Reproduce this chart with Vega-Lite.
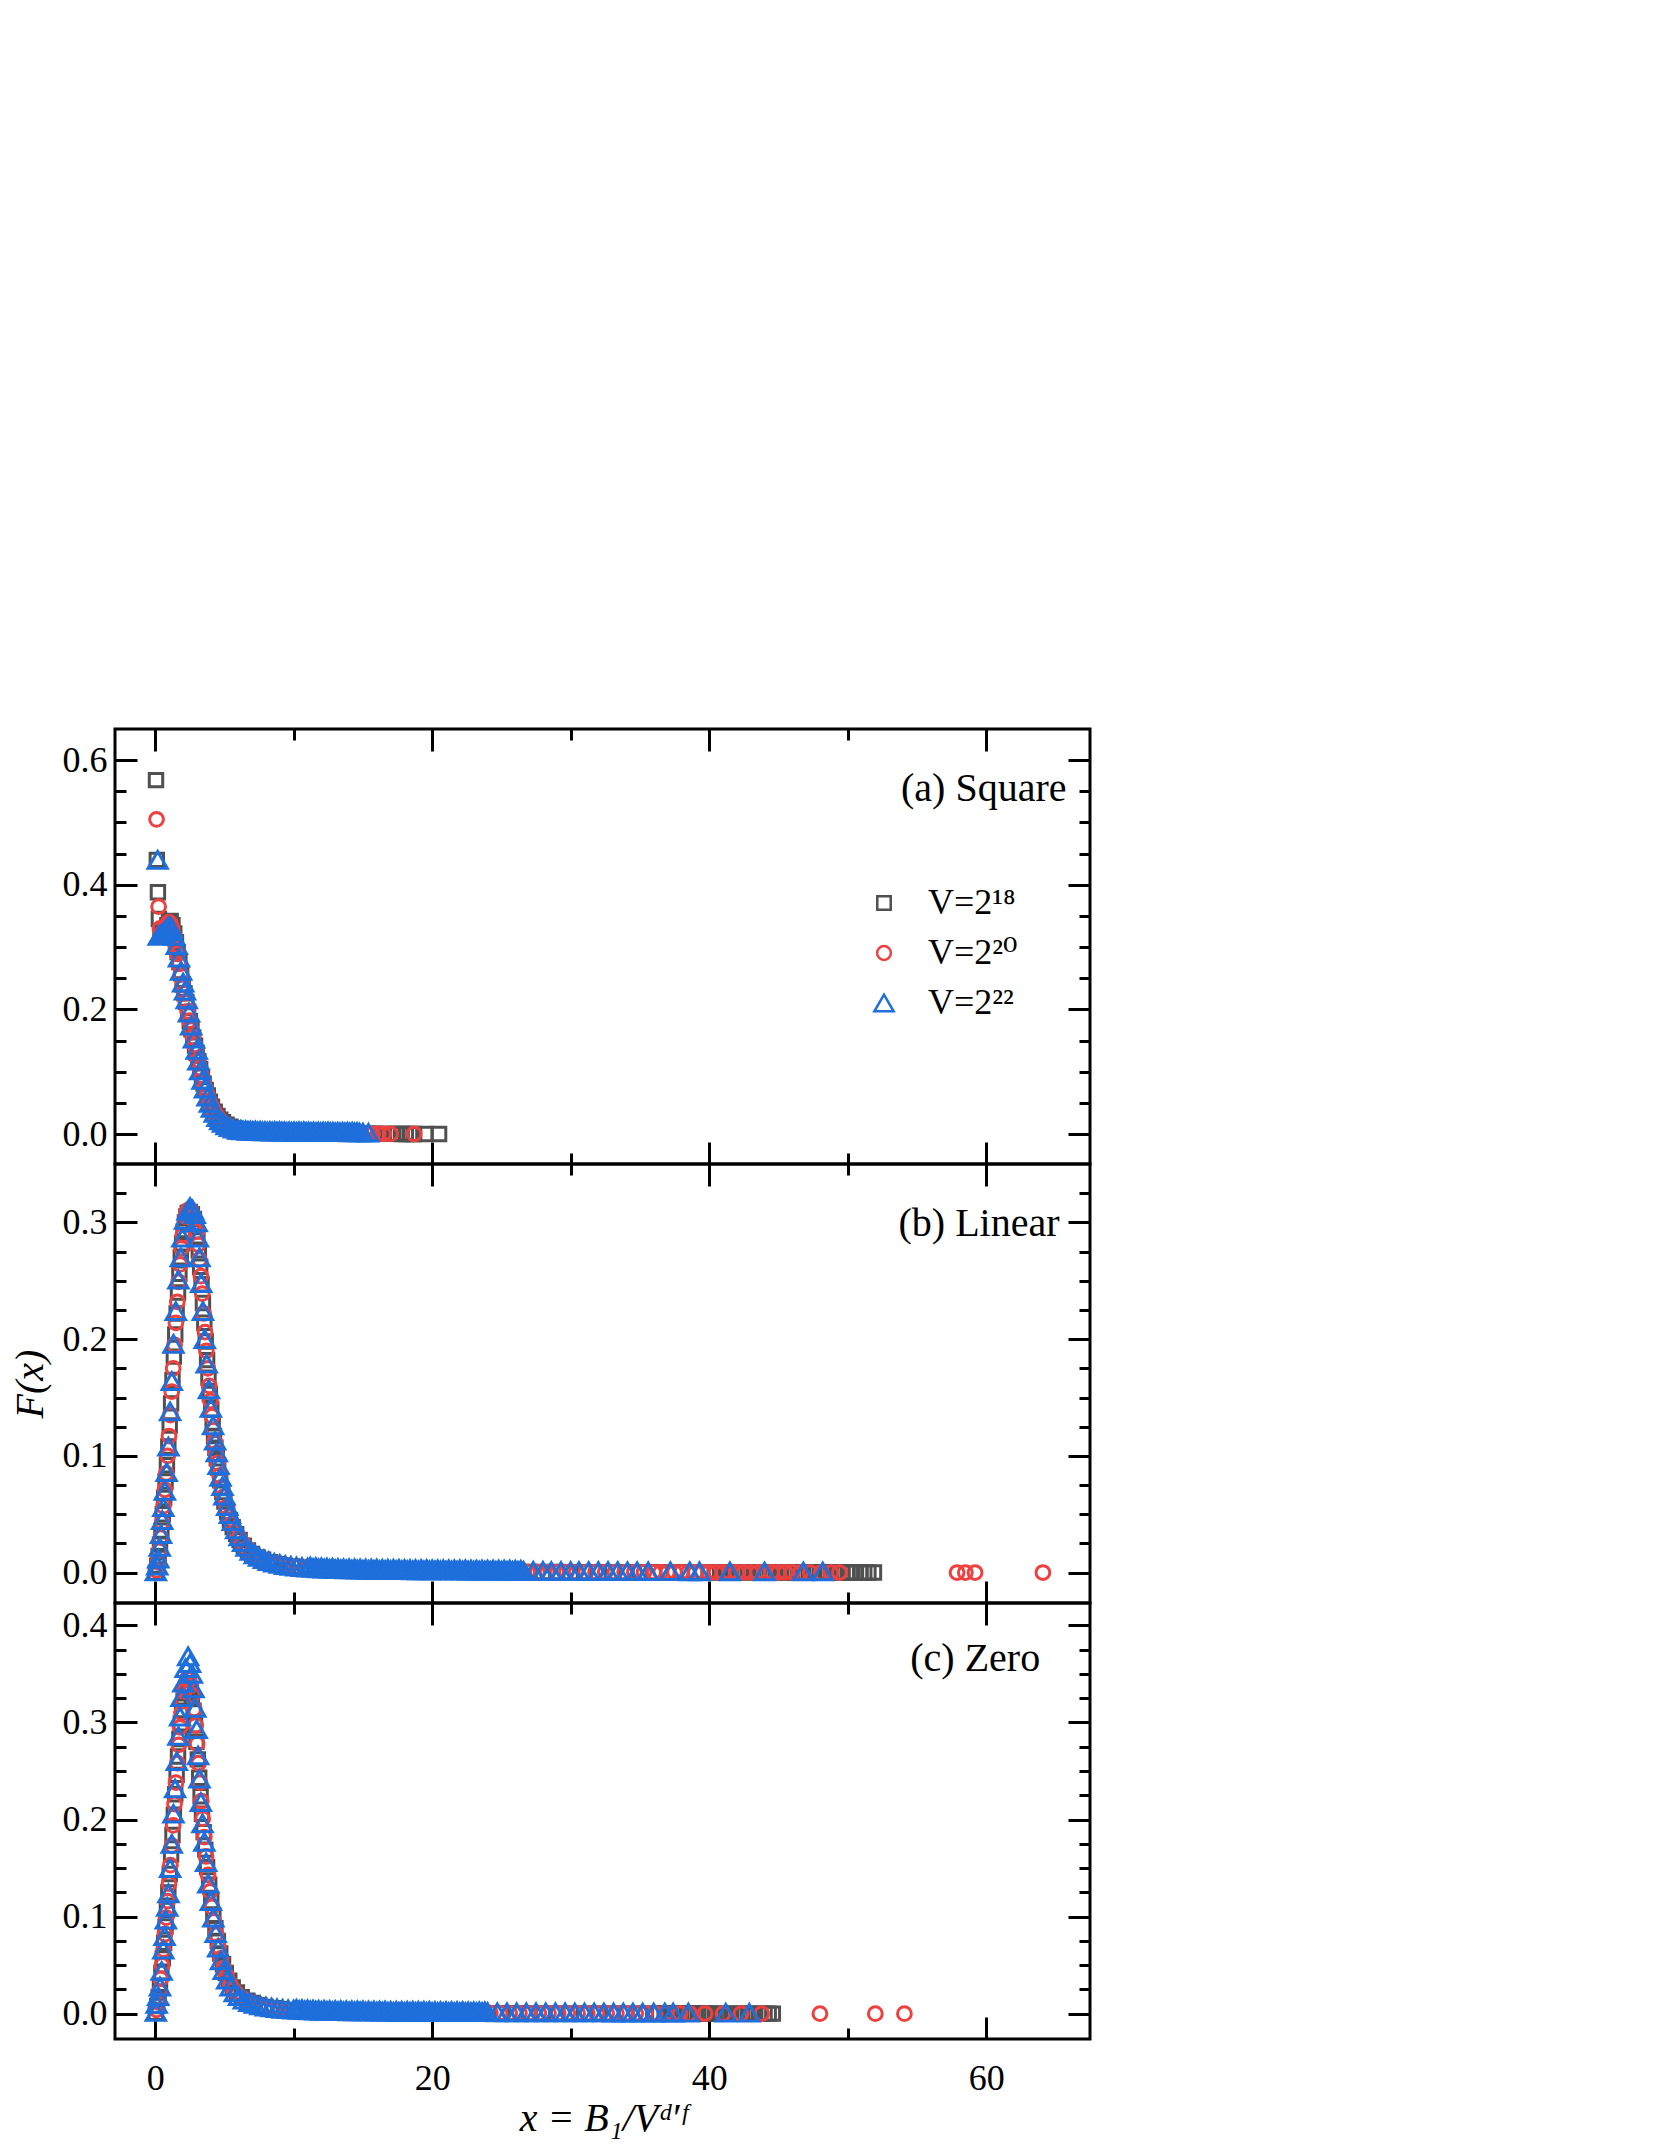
{
"$schema": "https://vega.github.io/schema/vega-lite/v6.json",
"background": "white",
"padding": {"left": 8, "top": 726, "right": 5, "bottom": 0},
"spacing": 0,
"bounds": "flush",
"resolve": {"scale": {"color": "shared", "shape": "shared", "size": "shared"}},
"config": {
  "font": "Liberation Serif",
  "view": {"stroke": "black", "strokeWidth": 3},
  "axis": {"grid": false, "domain": false, "tickColor": "black", "tickWidth": 3, "labelFont": "Liberation Serif", "labelFontSize": 36, "labelColor": "black", "labelPadding": 30, "titleFont": "Liberation Serif", "titleFontSize": 40, "titleFontStyle": "italic", "titleFontWeight": "normal", "titleColor": "black"}
},
"vconcat": [
{
 "width": 975, "height": 435,
 "data": {"values": [
{"s":18,"x":0.06,"y":0.568},{"s":18,"x":0.12,"y":0.44},{"s":18,"x":0.2,"y":0.388},{"s":18,"x":0.27,"y":0.345},{"s":18,"x":0.38,"y":0.322},{"s":18,"x":0.5,"y":0.318},{"s":18,"x":0.62,"y":0.322},{"s":18,"x":0.75,"y":0.328},{"s":18,"x":0.88,"y":0.335},{"s":18,"x":1.0,"y":0.34},{"s":18,"x":1.12,"y":0.342},{"s":18,"x":1.25,"y":0.335},{"s":18,"x":1.38,"y":0.322},{"s":18,"x":1.5,"y":0.308},{"s":18,"x":1.62,"y":0.292},{"s":18,"x":1.75,"y":0.276},{"s":18,"x":1.88,"y":0.258},{"s":18,"x":2.0,"y":0.24},{"s":18,"x":2.12,"y":0.226},{"s":18,"x":2.25,"y":0.212},{"s":18,"x":2.38,"y":0.196},{"s":18,"x":2.5,"y":0.181},{"s":18,"x":2.62,"y":0.168},{"s":18,"x":2.75,"y":0.155},{"s":18,"x":2.88,"y":0.142},{"s":18,"x":3.0,"y":0.13},{"s":18,"x":3.12,"y":0.117},{"s":18,"x":3.25,"y":0.104},{"s":18,"x":3.38,"y":0.092},{"s":18,"x":3.5,"y":0.081},{"s":18,"x":3.65,"y":0.071},{"s":18,"x":3.8,"y":0.062},{"s":18,"x":3.95,"y":0.052},{"s":18,"x":4.1,"y":0.044},{"s":18,"x":4.3,"y":0.036},{"s":18,"x":4.5,"y":0.029},{"s":18,"x":4.7,"y":0.023},{"s":18,"x":4.9,"y":0.019},{"s":18,"x":5.15,"y":0.015},{"s":18,"x":5.4,"y":0.012},{"s":18,"x":5.7,"y":0.009},{"s":18,"x":6.0,"y":0.007},{"s":18,"x":6.4,"y":0.0055},{"s":18,"x":6.8,"y":0.0045},{"s":18,"x":7.3,"y":0.0038},{"s":18,"x":7.8,"y":0.0032},{"s":18,"x":8.3,"y":0.0028},{"s":18,"x":8.8,"y":0.0025},{"s":18,"x":9.3,"y":0.0022},{"s":18,"x":9.8,"y":0.002},{"s":18,"x":10.3,"y":0.0018},{"s":18,"x":10.8,"y":0.0016},{"s":18,"x":11.3,"y":0.0015},{"s":18,"x":11.8,"y":0.0014},{"s":18,"x":12.3,"y":0.0012},{"s":18,"x":12.8,"y":0.0011},{"s":18,"x":13.3,"y":0.001},{"s":18,"x":13.8,"y":0.0009},{"s":18,"x":14.3,"y":0.0008},{"s":18,"x":14.8,"y":0.0007},{"s":18,"x":15.3,"y":0.0006},{"s":18,"x":15.8,"y":0.0005},{"s":18,"x":16.3,"y":0.0004},{"s":18,"x":16.8,"y":0.0004},{"s":18,"x":17.2,"y":0.0003},{"s":18,"x":17.5,"y":0.0003},{"s":18,"x":17.8,"y":0.0002},{"s":18,"x":18.1,"y":0.0002},{"s":18,"x":18.4,"y":0.0002},{"s":18,"x":18.7,"y":0.0001},{"s":18,"x":19.5,"y":0.0001},{"s":18,"x":20.5,"y":0.0001},
{"s":20,"x":0.1,"y":0.505},{"s":20,"x":0.25,"y":0.365},{"s":20,"x":0.35,"y":0.33},{"s":20,"x":0.48,"y":0.322},{"s":20,"x":0.6,"y":0.325},{"s":20,"x":0.72,"y":0.33},{"s":20,"x":0.85,"y":0.336},{"s":20,"x":0.97,"y":0.34},{"s":20,"x":1.1,"y":0.338},{"s":20,"x":1.22,"y":0.33},{"s":20,"x":1.35,"y":0.318},{"s":20,"x":1.48,"y":0.304},{"s":20,"x":1.6,"y":0.289},{"s":20,"x":1.72,"y":0.273},{"s":20,"x":1.85,"y":0.256},{"s":20,"x":1.98,"y":0.24},{"s":20,"x":2.1,"y":0.226},{"s":20,"x":2.22,"y":0.212},{"s":20,"x":2.35,"y":0.197},{"s":20,"x":2.48,"y":0.182},{"s":20,"x":2.6,"y":0.168},{"s":20,"x":2.72,"y":0.156},{"s":20,"x":2.85,"y":0.143},{"s":20,"x":2.98,"y":0.131},{"s":20,"x":3.1,"y":0.118},{"s":20,"x":3.22,"y":0.106},{"s":20,"x":3.35,"y":0.094},{"s":20,"x":3.48,"y":0.083},{"s":20,"x":3.62,"y":0.073},{"s":20,"x":3.76,"y":0.063},{"s":20,"x":3.9,"y":0.054},{"s":20,"x":4.05,"y":0.046},{"s":20,"x":4.22,"y":0.038},{"s":20,"x":4.4,"y":0.031},{"s":20,"x":4.6,"y":0.025},{"s":20,"x":4.8,"y":0.02},{"s":20,"x":5.0,"y":0.016},{"s":20,"x":5.25,"y":0.013},{"s":20,"x":5.5,"y":0.01},{"s":20,"x":5.8,"y":0.008},{"s":20,"x":6.1,"y":0.0065},{"s":20,"x":6.5,"y":0.005},{"s":20,"x":6.9,"y":0.0042},{"s":20,"x":7.3,"y":0.0035},{"s":20,"x":7.7,"y":0.003},{"s":20,"x":8.1,"y":0.0027},{"s":20,"x":8.5,"y":0.0024},{"s":20,"x":8.9,"y":0.0022},{"s":20,"x":9.3,"y":0.002},{"s":20,"x":9.7,"y":0.0018},{"s":20,"x":10.1,"y":0.0017},{"s":20,"x":10.5,"y":0.0016},{"s":20,"x":10.9,"y":0.0015},{"s":20,"x":11.3,"y":0.0014},{"s":20,"x":11.7,"y":0.0013},{"s":20,"x":12.1,"y":0.0012},{"s":20,"x":12.5,"y":0.0011},{"s":20,"x":12.9,"y":0.001},{"s":20,"x":13.3,"y":0.0009},{"s":20,"x":13.7,"y":0.0008},{"s":20,"x":14.1,"y":0.0008},{"s":20,"x":14.5,"y":0.0007},{"s":20,"x":14.9,"y":0.0006},{"s":20,"x":15.3,"y":0.0005},{"s":20,"x":15.7,"y":0.0005},{"s":20,"x":16.1,"y":0.0004},{"s":20,"x":16.5,"y":0.0003},{"s":20,"x":17.0,"y":0.0003},{"s":20,"x":18.7,"y":0.0002},
{"s":22,"x":0.18,"y":0.44},{"s":22,"x":0.26,"y":0.318},{"s":22,"x":0.4,"y":0.32},{"s":22,"x":0.55,"y":0.322},{"s":22,"x":0.7,"y":0.326},{"s":22,"x":0.85,"y":0.33},{"s":22,"x":1.03,"y":0.334},{"s":22,"x":1.2,"y":0.33},{"s":22,"x":1.38,"y":0.318},{"s":22,"x":1.56,"y":0.303},{"s":22,"x":1.72,"y":0.283},{"s":22,"x":1.87,"y":0.262},{"s":22,"x":2.02,"y":0.243},{"s":22,"x":2.15,"y":0.23},{"s":22,"x":2.28,"y":0.216},{"s":22,"x":2.44,"y":0.195},{"s":22,"x":2.6,"y":0.174},{"s":22,"x":2.8,"y":0.153},{"s":22,"x":3.0,"y":0.135},{"s":22,"x":3.12,"y":0.118},{"s":22,"x":3.25,"y":0.102},{"s":22,"x":3.42,"y":0.087},{"s":22,"x":3.6,"y":0.073},{"s":22,"x":3.78,"y":0.06},{"s":22,"x":3.95,"y":0.05},{"s":22,"x":4.1,"y":0.042},{"s":22,"x":4.3,"y":0.034},{"s":22,"x":4.5,"y":0.027},{"s":22,"x":4.7,"y":0.022},{"s":22,"x":4.9,"y":0.018},{"s":22,"x":5.15,"y":0.014},{"s":22,"x":5.4,"y":0.011},{"s":22,"x":5.7,"y":0.0085},{"s":22,"x":6.0,"y":0.0068},{"s":22,"x":6.35,"y":0.0058},{"s":22,"x":6.7,"y":0.0052},{"s":22,"x":7.05,"y":0.0048},{"s":22,"x":7.4,"y":0.0045},{"s":22,"x":7.75,"y":0.0043},{"s":22,"x":8.1,"y":0.0042},{"s":22,"x":8.45,"y":0.004},{"s":22,"x":8.8,"y":0.004},{"s":22,"x":9.15,"y":0.0039},{"s":22,"x":9.5,"y":0.0038},{"s":22,"x":9.85,"y":0.0037},{"s":22,"x":10.2,"y":0.0036},{"s":22,"x":10.55,"y":0.0035},{"s":22,"x":10.9,"y":0.0035},{"s":22,"x":11.25,"y":0.0034},{"s":22,"x":11.6,"y":0.0033},{"s":22,"x":11.95,"y":0.0032},{"s":22,"x":12.3,"y":0.0032},{"s":22,"x":12.65,"y":0.0031},{"s":22,"x":13.0,"y":0.003},{"s":22,"x":13.35,"y":0.003},{"s":22,"x":13.7,"y":0.0029},{"s":22,"x":14.05,"y":0.0028},{"s":22,"x":14.4,"y":0.0027},{"s":22,"x":14.75,"y":0.0026},{"s":22,"x":15.0,"y":0.0025},{"s":22,"x":15.4,"y":0.0022},
{"s":22,"x":6.18,"y":0.0068},{"s":22,"x":6.53,"y":0.0062},{"s":22,"x":6.88,"y":0.0058},{"s":22,"x":7.23,"y":0.0055},{"s":22,"x":7.58,"y":0.0052},{"s":22,"x":7.93,"y":0.005},{"s":22,"x":8.28,"y":0.0049},{"s":22,"x":8.63,"y":0.0048},{"s":22,"x":8.98,"y":0.0047},{"s":22,"x":9.33,"y":0.0046},{"s":22,"x":9.68,"y":0.0045},{"s":22,"x":10.03,"y":0.0044},{"s":22,"x":10.38,"y":0.0043},{"s":22,"x":10.73,"y":0.0043},{"s":22,"x":11.08,"y":0.0042},{"s":22,"x":11.43,"y":0.0041},{"s":22,"x":11.78,"y":0.004},{"s":22,"x":12.13,"y":0.004},{"s":22,"x":12.48,"y":0.0039},{"s":22,"x":12.83,"y":0.0038},{"s":22,"x":13.18,"y":0.0038},{"s":22,"x":13.53,"y":0.0037},{"s":22,"x":13.88,"y":0.0036},{"s":22,"x":14.23,"y":0.0035},{"s":22,"x":14.58,"y":0.0034}
 ]},
 "resolve": {"axis": {"x": "independent", "y": "independent"}},
 "layer": [
  {"mark": {"type": "point", "filled": false, "strokeWidth": 3, "opacity": 1},
   "encoding": {
    "x": {"field": "x", "type": "quantitative", "scale": {"domain": [-2.9, 67.5], "nice": false, "zero": false}, "axis": {"orient": "bottom", "values": [0, 20, 40, 60], "tickSize": -22, "labels": false, "title": null}},
    "y": {"field": "y", "type": "quantitative", "scale": {"domain": [-0.048, 0.65], "nice": false, "zero": false}, "axis": {"orient": "left", "values": [0, 0.2, 0.4, 0.6], "tickSize": -22, "format": ".1f", "title": null}},
    "color": {"field": "s", "type": "nominal", "scale": {"domain": [18, 20, 22], "range": ["#505050", "#ef4040", "#1e6fdc"]}, "legend": {"orient": "none", "legendX": 751, "legendY": 156, "title": null, "labelExpr": "datum.value == 18 ? 'V=2¹⁸' : datum.value == 20 ? 'V=2²⁰' : 'V=2²²'", "labelFont": "Liberation Serif, DejaVu Serif", "labelFontSize": 36, "labelColor": "black", "symbolSize": 200, "symbolStrokeWidth": 2.5, "rowPadding": 14, "labelOffset": 26, "padding": 0}},
    "shape": {"field": "s", "type": "nominal", "scale": {"domain": [18, 20, 22], "range": ["square", "circle", "triangle-up"]}, "legend": {"orient": "none", "legendX": 751, "legendY": 156, "title": null, "labelExpr": "datum.value == 18 ? 'V=2¹⁸' : datum.value == 20 ? 'V=2²⁰' : 'V=2²²'", "labelFont": "Liberation Serif, DejaVu Serif", "labelFontSize": 36, "labelColor": "black", "symbolSize": 200, "symbolStrokeWidth": 2.5, "rowPadding": 14, "labelOffset": 26, "padding": 0}},
    "size": {"field": "s", "type": "nominal", "scale": {"type": "ordinal", "domain": [18, 20, 22], "range": [180, 190, 370]}, "legend": null}
   }},
  {"data": {"values": [{}]}, "mark": {"type": "point", "opacity": 0},
   "encoding": {
    "x": {"datum": 0, "type": "quantitative", "scale": {"domain": [-2.9, 67.5], "nice": false, "zero": false}, "axis": {"orient": "bottom", "values": [10, 30, 50], "tickSize": -11, "labels": false, "title": null}},
    "y": {"datum": 0, "type": "quantitative", "scale": {"domain": [-0.048, 0.65], "nice": false, "zero": false}, "axis": {"orient": "left", "values": [0.05, 0.1, 0.15, 0.25, 0.3, 0.35, 0.45, 0.5, 0.55], "tickSize": -11, "labels": false, "title": null}}}},
  {"data": {"values": [{}]}, "mark": {"type": "point", "opacity": 0},
   "encoding": {
    "x": {"datum": 0, "type": "quantitative", "scale": {"domain": [-2.9, 67.5], "nice": false, "zero": false}, "axis": {"orient": "top", "values": [0, 20, 40, 60], "tickSize": -22, "labels": false, "title": null}},
    "y": {"datum": 0, "type": "quantitative", "scale": {"domain": [-0.048, 0.65], "nice": false, "zero": false}, "axis": {"orient": "right", "values": [0, 0.2, 0.4, 0.6], "tickSize": -22, "labels": false, "title": null}}}},
  {"data": {"values": [{}]}, "mark": {"type": "text", "text": "(a) Square", "align": "right", "baseline": "middle", "fontSize": 40, "font": "Liberation Serif", "color": "black"},
   "encoding": {
    "x": {"datum": 65.8, "type": "quantitative", "scale": {"domain": [-2.9, 67.5], "nice": false, "zero": false}, "axis": {"orient": "top", "values": [10, 30, 50], "tickSize": -11, "labels": false, "title": null}},
    "y": {"datum": 0.554, "type": "quantitative", "scale": {"domain": [-0.048, 0.65], "nice": false, "zero": false}, "axis": {"orient": "right", "values": [0.05, 0.1, 0.15, 0.25, 0.3, 0.35, 0.45, 0.5, 0.55], "tickSize": -11, "labels": false, "title": null}}}}
 ]
},
{
 "width": 975, "height": 439,
 "data": {"values": [
{"s":18,"x":0.05,"y":0.0},{"s":18,"x":0.15,"y":0.006},{"s":18,"x":0.25,"y":0.014},{"s":18,"x":0.35,"y":0.024},{"s":18,"x":0.45,"y":0.036},{"s":18,"x":0.55,"y":0.05},{"s":18,"x":0.65,"y":0.064},{"s":18,"x":0.75,"y":0.078},{"s":18,"x":0.85,"y":0.092},{"s":18,"x":0.95,"y":0.108},{"s":18,"x":1.05,"y":0.126},{"s":18,"x":1.15,"y":0.145},{"s":18,"x":1.25,"y":0.165},{"s":18,"x":1.35,"y":0.185},{"s":18,"x":1.45,"y":0.204},{"s":18,"x":1.55,"y":0.222},{"s":18,"x":1.65,"y":0.24},{"s":18,"x":1.75,"y":0.256},{"s":18,"x":1.85,"y":0.27},{"s":18,"x":1.95,"y":0.282},{"s":18,"x":2.05,"y":0.292},{"s":18,"x":2.15,"y":0.3},{"s":18,"x":2.25,"y":0.305},{"s":18,"x":2.35,"y":0.308},{"s":18,"x":2.5,"y":0.309},{"s":18,"x":2.65,"y":0.307},{"s":18,"x":2.8,"y":0.303},{"s":18,"x":2.95,"y":0.296},{"s":18,"x":3.05,"y":0.288},{"s":18,"x":3.15,"y":0.276},{"s":18,"x":3.25,"y":0.262},{"s":18,"x":3.35,"y":0.247},{"s":18,"x":3.45,"y":0.231},{"s":18,"x":3.55,"y":0.214},{"s":18,"x":3.65,"y":0.198},{"s":18,"x":3.75,"y":0.182},{"s":18,"x":3.85,"y":0.167},{"s":18,"x":3.95,"y":0.153},{"s":18,"x":4.05,"y":0.14},{"s":18,"x":4.15,"y":0.128},{"s":18,"x":4.25,"y":0.117},{"s":18,"x":4.35,"y":0.107},{"s":18,"x":4.45,"y":0.098},{"s":18,"x":4.55,"y":0.09},{"s":18,"x":4.7,"y":0.079},{"s":18,"x":4.85,"y":0.069},{"s":18,"x":5.0,"y":0.061},{"s":18,"x":5.2,"y":0.052},{"s":18,"x":5.4,"y":0.045},{"s":18,"x":5.6,"y":0.039},{"s":18,"x":5.85,"y":0.033},{"s":18,"x":6.1,"y":0.028},{"s":18,"x":6.4,"y":0.023},{"s":18,"x":6.7,"y":0.019},{"s":18,"x":7.0,"y":0.016},{"s":18,"x":7.4,"y":0.013},{"s":18,"x":7.8,"y":0.011},{"s":18,"x":8.3,"y":0.009},{"s":18,"x":8.8,"y":0.0075},{"s":18,"x":9.3,"y":0.0062},{"s":18,"x":9.9,"y":0.0052},{"s":18,"x":10.5,"y":0.0044},{"s":18,"x":11.2,"y":0.0037},{"s":18,"x":11.9,"y":0.0031},{"s":18,"x":12.6,"y":0.0026},{"s":18,"x":13.3,"y":0.0022},{"s":18,"x":14,"y":0.0019},{"s":18,"x":15,"y":0.0016},{"s":18,"x":16,"y":0.0014},{"s":18,"x":17,"y":0.0012},{"s":18,"x":18,"y":0.0011},{"s":18,"x":19,"y":0.001},{"s":18,"x":20,"y":0.0009},{"s":18,"x":21,"y":0.0008},{"s":18,"x":22,"y":0.0008},{"s":18,"x":23,"y":0.0007},{"s":18,"x":24,"y":0.0007},{"s":18,"x":25,"y":0.0006},{"s":18,"x":26,"y":0.0006},{"s":18,"x":27,"y":0.0005},{"s":18,"x":28,"y":0.0005},{"s":18,"x":29,"y":0.0005},{"s":18,"x":30,"y":0.0004},{"s":18,"x":31,"y":0.0004},{"s":18,"x":32,"y":0.0004},{"s":18,"x":33,"y":0.0004},{"s":18,"x":34,"y":0.0003},{"s":18,"x":35,"y":0.0003},{"s":18,"x":36,"y":0.0003},{"s":18,"x":37,"y":0.0003},{"s":18,"x":38,"y":0.0003},{"s":18,"x":39,"y":0.0002},{"s":18,"x":40,"y":0.0002},{"s":18,"x":40.4,"y":0.0002},{"s":18,"x":40.8,"y":0.0002},{"s":18,"x":41.2,"y":0.0002},{"s":18,"x":41.6,"y":0.0002},{"s":18,"x":42.0,"y":0.0002},{"s":18,"x":42.4,"y":0.0002},{"s":18,"x":42.8,"y":0.0002},{"s":18,"x":43.2,"y":0.0002},{"s":18,"x":43.6,"y":0.0002},{"s":18,"x":44.0,"y":0.0002},{"s":18,"x":44.4,"y":0.0002},{"s":18,"x":44.8,"y":0.0002},{"s":18,"x":45.2,"y":0.0001},{"s":18,"x":45.6,"y":0.0001},{"s":18,"x":46.0,"y":0.0001},{"s":18,"x":46.4,"y":0.0001},{"s":18,"x":46.8,"y":0.0001},{"s":18,"x":47.2,"y":0.0001},{"s":18,"x":47.6,"y":0.0001},{"s":18,"x":48.0,"y":0.0001},{"s":18,"x":48.4,"y":0.0001},{"s":18,"x":48.8,"y":0.0001},{"s":18,"x":49.2,"y":0.0001},{"s":18,"x":49.6,"y":0.0001},{"s":18,"x":50.0,"y":0.0001},{"s":18,"x":50.3,"y":0.0001},{"s":18,"x":50.6,"y":0.0001},{"s":18,"x":50.9,"y":0.0001},{"s":18,"x":51.2,"y":0.0001},{"s":18,"x":51.5,"y":0.0001},{"s":18,"x":51.9,"y":0.0001},
{"s":20,"x":0.1,"y":0.002},{"s":20,"x":0.2,"y":0.009},{"s":20,"x":0.3,"y":0.019},{"s":20,"x":0.4,"y":0.03},{"s":20,"x":0.5,"y":0.043},{"s":20,"x":0.6,"y":0.057},{"s":20,"x":0.7,"y":0.071},{"s":20,"x":0.8,"y":0.085},{"s":20,"x":0.9,"y":0.1},{"s":20,"x":1.0,"y":0.117},{"s":20,"x":1.1,"y":0.135},{"s":20,"x":1.2,"y":0.155},{"s":20,"x":1.3,"y":0.175},{"s":20,"x":1.4,"y":0.195},{"s":20,"x":1.5,"y":0.214},{"s":20,"x":1.6,"y":0.232},{"s":20,"x":1.7,"y":0.249},{"s":20,"x":1.8,"y":0.264},{"s":20,"x":1.9,"y":0.278},{"s":20,"x":2.0,"y":0.289},{"s":20,"x":2.1,"y":0.298},{"s":20,"x":2.2,"y":0.305},{"s":20,"x":2.3,"y":0.309},{"s":20,"x":2.45,"y":0.311},{"s":20,"x":2.6,"y":0.31},{"s":20,"x":2.75,"y":0.306},{"s":20,"x":2.9,"y":0.3},{"s":20,"x":3.0,"y":0.292},{"s":20,"x":3.1,"y":0.281},{"s":20,"x":3.2,"y":0.268},{"s":20,"x":3.3,"y":0.254},{"s":20,"x":3.4,"y":0.239},{"s":20,"x":3.5,"y":0.222},{"s":20,"x":3.6,"y":0.206},{"s":20,"x":3.7,"y":0.19},{"s":20,"x":3.8,"y":0.175},{"s":20,"x":3.9,"y":0.16},{"s":20,"x":4.0,"y":0.147},{"s":20,"x":4.1,"y":0.134},{"s":20,"x":4.2,"y":0.122},{"s":20,"x":4.3,"y":0.112},{"s":20,"x":4.4,"y":0.102},{"s":20,"x":4.5,"y":0.094},{"s":20,"x":4.65,"y":0.083},{"s":20,"x":4.8,"y":0.073},{"s":20,"x":4.95,"y":0.065},{"s":20,"x":5.15,"y":0.056},{"s":20,"x":5.35,"y":0.048},{"s":20,"x":5.55,"y":0.042},{"s":20,"x":5.8,"y":0.035},{"s":20,"x":6.05,"y":0.03},{"s":20,"x":6.35,"y":0.025},{"s":20,"x":6.65,"y":0.021},{"s":20,"x":6.95,"y":0.017},{"s":20,"x":7.3,"y":0.014},{"s":20,"x":7.7,"y":0.0115},{"s":20,"x":8.1,"y":0.0095},{"s":20,"x":8.6,"y":0.008},{"s":20,"x":9.1,"y":0.0066},{"s":20,"x":9.6,"y":0.0055},{"s":20,"x":10.2,"y":0.0046},{"s":20,"x":10.8,"y":0.0039},{"s":20,"x":11.5,"y":0.0032},{"s":20,"x":12.2,"y":0.0027},{"s":20,"x":12.9,"y":0.0023},{"s":20,"x":13.6,"y":0.002},{"s":20,"x":14.3,"y":0.0018},{"s":20,"x":15.0,"y":0.0016},{"s":20,"x":15.7,"y":0.0015},{"s":20,"x":16.4,"y":0.0014},{"s":20,"x":17.1,"y":0.0013},{"s":20,"x":17.8,"y":0.0012},{"s":20,"x":18.5,"y":0.0011},{"s":20,"x":19.2,"y":0.001},{"s":20,"x":19.9,"y":0.001},{"s":20,"x":20.6,"y":0.0009},{"s":20,"x":21.3,"y":0.0009},{"s":20,"x":22.0,"y":0.0008},{"s":20,"x":22.7,"y":0.0008},{"s":20,"x":23.4,"y":0.0007},{"s":20,"x":24.1,"y":0.0007},{"s":20,"x":24.8,"y":0.0007},{"s":20,"x":25.5,"y":0.0006},{"s":20,"x":26.2,"y":0.0006},{"s":20,"x":26.9,"y":0.0006},{"s":20,"x":27.6,"y":0.0005},{"s":20,"x":28.3,"y":0.0005},{"s":20,"x":29.0,"y":0.0005},{"s":20,"x":29.7,"y":0.0005},{"s":20,"x":30.4,"y":0.0004},{"s":20,"x":31.1,"y":0.0004},{"s":20,"x":31.8,"y":0.0004},{"s":20,"x":32.5,"y":0.0004},{"s":20,"x":33.2,"y":0.0004},{"s":20,"x":33.9,"y":0.0003},{"s":20,"x":34.6,"y":0.0003},{"s":20,"x":35.3,"y":0.0003},{"s":20,"x":36.0,"y":0.0003},{"s":20,"x":36.5,"y":0.0003},{"s":20,"x":37.0,"y":0.0003},{"s":20,"x":37.5,"y":0.0003},{"s":20,"x":38.0,"y":0.0003},{"s":20,"x":38.5,"y":0.0002},{"s":20,"x":39.0,"y":0.0002},{"s":20,"x":39.5,"y":0.0002},{"s":20,"x":40.0,"y":0.0002},{"s":20,"x":40.5,"y":0.0002},{"s":20,"x":41.0,"y":0.0002},{"s":20,"x":41.5,"y":0.0002},{"s":20,"x":42.0,"y":0.0002},{"s":20,"x":42.5,"y":0.0002},{"s":20,"x":43.0,"y":0.0002},{"s":20,"x":43.5,"y":0.0002},{"s":20,"x":44.0,"y":0.0002},{"s":20,"x":44.5,"y":0.0002},{"s":20,"x":45.0,"y":0.0002},{"s":20,"x":45.5,"y":0.0002},{"s":20,"x":46.0,"y":0.0002},{"s":20,"x":46.6,"y":0.0001},{"s":20,"x":47.3,"y":0.0001},{"s":20,"x":48.1,"y":0.0001},{"s":20,"x":48.8,"y":0.0001},{"s":20,"x":49.4,"y":0.0001},{"s":20,"x":57.9,"y":0.0001},{"s":20,"x":58.5,"y":0.0001},{"s":20,"x":59.2,"y":0.0001},{"s":20,"x":64.1,"y":0.0001},
{"s":22,"x":0.05,"y":0.001},{"s":22,"x":0.15,"y":0.006},{"s":22,"x":0.23,"y":0.012},{"s":22,"x":0.33,"y":0.022},{"s":22,"x":0.42,"y":0.033},{"s":22,"x":0.51,"y":0.045},{"s":22,"x":0.59,"y":0.056},{"s":22,"x":0.7,"y":0.07},{"s":22,"x":0.83,"y":0.086},{"s":22,"x":0.96,"y":0.108},{"s":22,"x":1.08,"y":0.138},{"s":22,"x":1.2,"y":0.164},{"s":22,"x":1.32,"y":0.196},{"s":22,"x":1.49,"y":0.224},{"s":22,"x":1.68,"y":0.251},{"s":22,"x":1.85,"y":0.27},{"s":22,"x":1.97,"y":0.287},{"s":22,"x":2.16,"y":0.302},{"s":22,"x":2.35,"y":0.31},{"s":22,"x":2.52,"y":0.313},{"s":22,"x":2.7,"y":0.311},{"s":22,"x":2.86,"y":0.307},{"s":22,"x":3.0,"y":0.3},{"s":22,"x":3.08,"y":0.287},{"s":22,"x":3.2,"y":0.27},{"s":22,"x":3.32,"y":0.248},{"s":22,"x":3.45,"y":0.224},{"s":22,"x":3.58,"y":0.2},{"s":22,"x":3.72,"y":0.179},{"s":22,"x":3.88,"y":0.157},{"s":22,"x":4.02,"y":0.141},{"s":22,"x":4.18,"y":0.126},{"s":22,"x":4.33,"y":0.113},{"s":22,"x":4.45,"y":0.103},{"s":22,"x":4.58,"y":0.092},{"s":22,"x":4.72,"y":0.082},{"s":22,"x":4.86,"y":0.074},{"s":22,"x":5.0,"y":0.066},{"s":22,"x":5.2,"y":0.057},{"s":22,"x":5.4,"y":0.05},{"s":22,"x":5.6,"y":0.044},{"s":22,"x":5.85,"y":0.037},{"s":22,"x":6.1,"y":0.031},{"s":22,"x":6.35,"y":0.026},{"s":22,"x":6.6,"y":0.022},{"s":22,"x":6.9,"y":0.0185},{"s":22,"x":7.2,"y":0.0157},{"s":22,"x":7.5,"y":0.0135},{"s":22,"x":7.85,"y":0.0115},{"s":22,"x":8.2,"y":0.0098},{"s":22,"x":8.6,"y":0.0085},{"s":22,"x":9.0,"y":0.0074},{"s":22,"x":9.4,"y":0.0065},{"s":22,"x":9.8,"y":0.0058},{"s":22,"x":10.2,"y":0.0052},{"s":22,"x":10.6,"y":0.0047},{"s":22,"x":11.0,"y":0.0043},{"s":22,"x":11.4,"y":0.004},{"s":22,"x":11.8,"y":0.0037},{"s":22,"x":12.2,"y":0.0034},{"s":22,"x":12.6,"y":0.0032},{"s":22,"x":13.0,"y":0.003},{"s":22,"x":13.4,"y":0.0029},{"s":22,"x":13.8,"y":0.0028},{"s":22,"x":14.2,"y":0.0027},{"s":22,"x":14.6,"y":0.0026},{"s":22,"x":15.0,"y":0.0025},{"s":22,"x":15.4,"y":0.0024},{"s":22,"x":15.8,"y":0.0024},{"s":22,"x":16.2,"y":0.0023},{"s":22,"x":16.6,"y":0.0023},{"s":22,"x":17.0,"y":0.0022},{"s":22,"x":17.4,"y":0.0022},{"s":22,"x":17.8,"y":0.0021},{"s":22,"x":18.2,"y":0.0021},{"s":22,"x":18.6,"y":0.002},{"s":22,"x":19.0,"y":0.002},{"s":22,"x":19.4,"y":0.002},{"s":22,"x":19.8,"y":0.0019},{"s":22,"x":20.2,"y":0.0019},{"s":22,"x":20.6,"y":0.0019},{"s":22,"x":21.0,"y":0.0018},{"s":22,"x":21.4,"y":0.0018},{"s":22,"x":21.8,"y":0.0018},{"s":22,"x":22.2,"y":0.0018},{"s":22,"x":22.6,"y":0.0017},{"s":22,"x":23.0,"y":0.0017},{"s":22,"x":23.4,"y":0.0017},{"s":22,"x":23.8,"y":0.0017},{"s":22,"x":24.2,"y":0.0016},{"s":22,"x":24.6,"y":0.0016},{"s":22,"x":25.0,"y":0.0016},{"s":22,"x":25.4,"y":0.0016},{"s":22,"x":25.8,"y":0.0015},{"s":22,"x":26.2,"y":0.0015},{"s":22,"x":26.6,"y":0.0015},{"s":22,"x":27.3,"y":0.0015},{"s":22,"x":28.0,"y":0.0015},{"s":22,"x":28.6,"y":0.0014},{"s":22,"x":29.3,"y":0.0014},{"s":22,"x":30.0,"y":0.0014},{"s":22,"x":30.6,"y":0.0014},{"s":22,"x":31.3,"y":0.0013},{"s":22,"x":32.0,"y":0.0013},{"s":22,"x":32.7,"y":0.0013},{"s":22,"x":33.4,"y":0.0013},{"s":22,"x":34.1,"y":0.0012},{"s":22,"x":34.8,"y":0.0012},{"s":22,"x":35.6,"y":0.0012},{"s":22,"x":37.2,"y":0.0012},{"s":22,"x":38.6,"y":0.0011},{"s":22,"x":39.3,"y":0.0011},{"s":22,"x":41.5,"y":0.0011},{"s":22,"x":44.0,"y":0.001},{"s":22,"x":46.8,"y":0.001},{"s":22,"x":48.2,"y":0.001},
{"s":22,"x":11.2,"y":0.0052},{"s":22,"x":11.6,"y":0.0048},{"s":22,"x":12.0,"y":0.0045},{"s":22,"x":12.4,"y":0.0043},{"s":22,"x":12.8,"y":0.0041},{"s":22,"x":13.2,"y":0.0039},{"s":22,"x":13.6,"y":0.0038},{"s":22,"x":14.0,"y":0.0037},{"s":22,"x":14.4,"y":0.0036},{"s":22,"x":14.8,"y":0.0035},{"s":22,"x":15.2,"y":0.0035},{"s":22,"x":15.6,"y":0.0034},{"s":22,"x":16.0,"y":0.0034},{"s":22,"x":16.4,"y":0.0033},{"s":22,"x":16.8,"y":0.0033},{"s":22,"x":17.2,"y":0.0032},{"s":22,"x":17.6,"y":0.0032},{"s":22,"x":18.0,"y":0.0031},{"s":22,"x":18.4,"y":0.0031},{"s":22,"x":18.8,"y":0.003},{"s":22,"x":19.2,"y":0.003},{"s":22,"x":19.6,"y":0.003},{"s":22,"x":20.0,"y":0.0029},{"s":22,"x":20.4,"y":0.0029},{"s":22,"x":20.8,"y":0.0029},{"s":22,"x":21.2,"y":0.0028},{"s":22,"x":21.6,"y":0.0028},{"s":22,"x":22.0,"y":0.0028},{"s":22,"x":22.4,"y":0.0028},{"s":22,"x":22.8,"y":0.0027},{"s":22,"x":23.2,"y":0.0027},{"s":22,"x":23.6,"y":0.0027},{"s":22,"x":24.0,"y":0.0027},{"s":22,"x":24.4,"y":0.0026},{"s":22,"x":24.8,"y":0.0026},{"s":22,"x":25.2,"y":0.0026},{"s":22,"x":25.6,"y":0.0026},{"s":22,"x":26.0,"y":0.0025},{"s":22,"x":26.4,"y":0.0025}
 ]},
 "resolve": {"axis": {"x": "independent", "y": "independent"}},
 "layer": [
  {"mark": {"type": "point", "filled": false, "strokeWidth": 3, "opacity": 1},
   "encoding": {
    "x": {"field": "x", "type": "quantitative", "scale": {"domain": [-2.9, 67.5], "nice": false, "zero": false}, "axis": {"orient": "bottom", "values": [0, 20, 40, 60], "tickSize": -22, "labels": false, "title": null}},
    "y": {"field": "y", "type": "quantitative", "scale": {"domain": [-0.026, 0.35], "nice": false, "zero": false}, "axis": {"orient": "left", "values": [0, 0.1, 0.2, 0.3], "tickSize": -22, "format": ".1f", "title": "F(x)", "titlePadding": 12}},
    "color": {"field": "s", "type": "nominal", "scale": {"domain": [18, 20, 22], "range": ["#505050", "#ef4040", "#1e6fdc"]}, "legend": {"orient": "none", "legendX": 751, "legendY": 156, "title": null, "labelExpr": "datum.value == 18 ? 'V=2¹⁸' : datum.value == 20 ? 'V=2²⁰' : 'V=2²²'", "labelFont": "Liberation Serif, DejaVu Serif", "labelFontSize": 36, "labelColor": "black", "symbolSize": 200, "symbolStrokeWidth": 2.5, "rowPadding": 14, "labelOffset": 26, "padding": 0}},
    "shape": {"field": "s", "type": "nominal", "scale": {"domain": [18, 20, 22], "range": ["square", "circle", "triangle-up"]}, "legend": {"orient": "none", "legendX": 751, "legendY": 156, "title": null, "labelExpr": "datum.value == 18 ? 'V=2¹⁸' : datum.value == 20 ? 'V=2²⁰' : 'V=2²²'", "labelFont": "Liberation Serif, DejaVu Serif", "labelFontSize": 36, "labelColor": "black", "symbolSize": 200, "symbolStrokeWidth": 2.5, "rowPadding": 14, "labelOffset": 26, "padding": 0}},
    "size": {"field": "s", "type": "nominal", "scale": {"type": "ordinal", "domain": [18, 20, 22], "range": [180, 190, 370]}, "legend": null}
   }},
  {"data": {"values": [{}]}, "mark": {"type": "point", "opacity": 0},
   "encoding": {
    "x": {"datum": 0, "type": "quantitative", "scale": {"domain": [-2.9, 67.5], "nice": false, "zero": false}, "axis": {"orient": "bottom", "values": [10, 30, 50], "tickSize": -11, "labels": false, "title": null}},
    "y": {"datum": 0, "type": "quantitative", "scale": {"domain": [-0.026, 0.35], "nice": false, "zero": false}, "axis": {"orient": "left", "values": [0.025, 0.05, 0.075, 0.125, 0.15, 0.175, 0.225, 0.25, 0.275, 0.325], "tickSize": -11, "labels": false, "title": null}}}},
  {"data": {"values": [{}]}, "mark": {"type": "point", "opacity": 0},
   "encoding": {
    "x": {"datum": 0, "type": "quantitative", "scale": {"domain": [-2.9, 67.5], "nice": false, "zero": false}, "axis": {"orient": "top", "values": [0, 20, 40, 60], "tickSize": -22, "labels": false, "title": null}},
    "y": {"datum": 0, "type": "quantitative", "scale": {"domain": [-0.026, 0.35], "nice": false, "zero": false}, "axis": {"orient": "right", "values": [0, 0.1, 0.2, 0.3], "tickSize": -22, "labels": false, "title": null}}}},
  {"data": {"values": [{}]}, "mark": {"type": "text", "text": "(b) Linear", "align": "right", "baseline": "middle", "fontSize": 40, "font": "Liberation Serif", "color": "black"},
   "encoding": {
    "x": {"datum": 65.3, "type": "quantitative", "scale": {"domain": [-2.9, 67.5], "nice": false, "zero": false}, "axis": {"orient": "top", "values": [10, 30, 50], "tickSize": -11, "labels": false, "title": null}},
    "y": {"datum": 0.299, "type": "quantitative", "scale": {"domain": [-0.026, 0.35], "nice": false, "zero": false}, "axis": {"orient": "right", "values": [0.025, 0.05, 0.075, 0.125, 0.15, 0.175, 0.225, 0.25, 0.275, 0.325], "tickSize": -11, "labels": false, "title": null}}}}
 ]
},
{
 "width": 975, "height": 436,
 "data": {"values": [
{"s":18,"x":0.05,"y":0.001},{"s":18,"x":0.15,"y":0.008},{"s":18,"x":0.25,"y":0.017},{"s":18,"x":0.35,"y":0.029},{"s":18,"x":0.45,"y":0.042},{"s":18,"x":0.55,"y":0.057},{"s":18,"x":0.65,"y":0.073},{"s":18,"x":0.75,"y":0.09},{"s":18,"x":0.85,"y":0.107},{"s":18,"x":0.95,"y":0.125},{"s":18,"x":1.05,"y":0.144},{"s":18,"x":1.15,"y":0.164},{"s":18,"x":1.25,"y":0.184},{"s":18,"x":1.35,"y":0.205},{"s":18,"x":1.45,"y":0.226},{"s":18,"x":1.55,"y":0.246},{"s":18,"x":1.65,"y":0.265},{"s":18,"x":1.75,"y":0.283},{"s":18,"x":1.85,"y":0.299},{"s":18,"x":1.95,"y":0.312},{"s":18,"x":2.05,"y":0.322},{"s":18,"x":2.15,"y":0.33},{"s":18,"x":2.27,"y":0.335},{"s":18,"x":2.4,"y":0.336},{"s":18,"x":2.53,"y":0.332},{"s":18,"x":2.65,"y":0.324},{"s":18,"x":2.77,"y":0.312},{"s":18,"x":2.88,"y":0.297},{"s":18,"x":2.98,"y":0.28},{"s":18,"x":3.08,"y":0.262},{"s":18,"x":3.18,"y":0.243},{"s":18,"x":3.28,"y":0.224},{"s":18,"x":3.38,"y":0.206},{"s":18,"x":3.5,"y":0.187},{"s":18,"x":3.62,"y":0.169},{"s":18,"x":3.75,"y":0.151},{"s":18,"x":3.9,"y":0.133},{"s":18,"x":4.05,"y":0.116},{"s":18,"x":4.2,"y":0.101},{"s":18,"x":4.35,"y":0.088},{"s":18,"x":4.52,"y":0.075},{"s":18,"x":4.7,"y":0.062},{"s":18,"x":4.9,"y":0.051},{"s":18,"x":5.1,"y":0.042},{"s":18,"x":5.35,"y":0.034},{"s":18,"x":5.6,"y":0.027},{"s":18,"x":5.9,"y":0.022},{"s":18,"x":6.25,"y":0.017},{"s":18,"x":6.65,"y":0.0135},{"s":18,"x":7.05,"y":0.011},{"s":18,"x":7.5,"y":0.0088},{"s":18,"x":8.0,"y":0.007},{"s":18,"x":8.5,"y":0.0057},{"s":18,"x":9.0,"y":0.0047},{"s":18,"x":9.6,"y":0.0039},{"s":18,"x":10.2,"y":0.0032},{"s":18,"x":11,"y":0.0027},{"s":18,"x":12,"y":0.0022},{"s":18,"x":13,"y":0.0018},{"s":18,"x":14,"y":0.0015},{"s":18,"x":15,"y":0.0013},{"s":18,"x":16,"y":0.0011},{"s":18,"x":17,"y":0.001},{"s":18,"x":18,"y":0.0009},{"s":18,"x":19,"y":0.0008},{"s":18,"x":20,"y":0.0007},{"s":18,"x":21,"y":0.0007},{"s":18,"x":22,"y":0.0006},{"s":18,"x":23,"y":0.0006},{"s":18,"x":24,"y":0.0005},{"s":18,"x":25,"y":0.0005},{"s":18,"x":26,"y":0.0005},{"s":18,"x":27,"y":0.0004},{"s":18,"x":28,"y":0.0004},{"s":18,"x":29,"y":0.0004},{"s":18,"x":30,"y":0.0004},{"s":18,"x":31,"y":0.0003},{"s":18,"x":32,"y":0.0003},{"s":18,"x":33,"y":0.0003},{"s":18,"x":34,"y":0.0003},{"s":18,"x":35,"y":0.0003},{"s":18,"x":36,"y":0.0002},{"s":18,"x":36.4,"y":0.0002},{"s":18,"x":36.8,"y":0.0002},{"s":18,"x":37.2,"y":0.0002},{"s":18,"x":37.6,"y":0.0002},{"s":18,"x":38.0,"y":0.0002},{"s":18,"x":38.4,"y":0.0002},{"s":18,"x":38.8,"y":0.0002},{"s":18,"x":39.2,"y":0.0002},{"s":18,"x":39.6,"y":0.0002},{"s":18,"x":40.0,"y":0.0002},{"s":18,"x":40.4,"y":0.0001},{"s":18,"x":40.8,"y":0.0001},{"s":18,"x":41.2,"y":0.0001},{"s":18,"x":41.6,"y":0.0001},{"s":18,"x":42.0,"y":0.0001},{"s":18,"x":42.4,"y":0.0001},{"s":18,"x":42.8,"y":0.0001},{"s":18,"x":43.2,"y":0.0001},{"s":18,"x":43.6,"y":0.0001},{"s":18,"x":44.0,"y":0.0001},{"s":18,"x":44.3,"y":0.0001},{"s":18,"x":44.6,"y":0.0001},
{"s":20,"x":0.1,"y":0.004},{"s":20,"x":0.2,"y":0.012},{"s":20,"x":0.3,"y":0.023},{"s":20,"x":0.4,"y":0.036},{"s":20,"x":0.5,"y":0.05},{"s":20,"x":0.6,"y":0.066},{"s":20,"x":0.7,"y":0.082},{"s":20,"x":0.8,"y":0.099},{"s":20,"x":0.9,"y":0.116},{"s":20,"x":1.0,"y":0.134},{"s":20,"x":1.1,"y":0.153},{"s":20,"x":1.2,"y":0.173},{"s":20,"x":1.3,"y":0.194},{"s":20,"x":1.4,"y":0.216},{"s":20,"x":1.5,"y":0.238},{"s":20,"x":1.6,"y":0.258},{"s":20,"x":1.7,"y":0.277},{"s":20,"x":1.8,"y":0.295},{"s":20,"x":1.9,"y":0.31},{"s":20,"x":2.0,"y":0.322},{"s":20,"x":2.1,"y":0.332},{"s":20,"x":2.2,"y":0.34},{"s":20,"x":2.32,"y":0.345},{"s":20,"x":2.45,"y":0.344},{"s":20,"x":2.58,"y":0.338},{"s":20,"x":2.7,"y":0.328},{"s":20,"x":2.82,"y":0.314},{"s":20,"x":2.93,"y":0.297},{"s":20,"x":3.03,"y":0.278},{"s":20,"x":3.13,"y":0.258},{"s":20,"x":3.23,"y":0.238},{"s":20,"x":3.33,"y":0.219},{"s":20,"x":3.43,"y":0.201},{"s":20,"x":3.55,"y":0.182},{"s":20,"x":3.68,"y":0.162},{"s":20,"x":3.82,"y":0.143},{"s":20,"x":3.96,"y":0.126},{"s":20,"x":4.1,"y":0.11},{"s":20,"x":4.25,"y":0.095},{"s":20,"x":4.4,"y":0.082},{"s":20,"x":4.57,"y":0.069},{"s":20,"x":4.75,"y":0.057},{"s":20,"x":4.95,"y":0.047},{"s":20,"x":5.15,"y":0.039},{"s":20,"x":5.4,"y":0.031},{"s":20,"x":5.65,"y":0.025},{"s":20,"x":5.95,"y":0.02},{"s":20,"x":6.3,"y":0.016},{"s":20,"x":6.7,"y":0.0125},{"s":20,"x":7.1,"y":0.01},{"s":20,"x":7.55,"y":0.008},{"s":20,"x":8.0,"y":0.0065},{"s":20,"x":8.5,"y":0.0052},{"s":20,"x":9.0,"y":0.0043},{"s":20,"x":9.6,"y":0.0036},{"s":20,"x":10.2,"y":0.003},{"s":20,"x":10.9,"y":0.0026},{"s":20,"x":11.6,"y":0.0023},{"s":20,"x":12.3,"y":0.002},{"s":20,"x":13.0,"y":0.0018},{"s":20,"x":13.7,"y":0.0016},{"s":20,"x":14.4,"y":0.0015},{"s":20,"x":15.1,"y":0.0013},{"s":20,"x":15.8,"y":0.0012},{"s":20,"x":16.5,"y":0.0011},{"s":20,"x":17.2,"y":0.001},{"s":20,"x":17.9,"y":0.001},{"s":20,"x":18.6,"y":0.0009},{"s":20,"x":19.3,"y":0.0009},{"s":20,"x":20.0,"y":0.0008},{"s":20,"x":20.7,"y":0.0008},{"s":20,"x":21.4,"y":0.0007},{"s":20,"x":22.1,"y":0.0007},{"s":20,"x":22.8,"y":0.0007},{"s":20,"x":23.5,"y":0.0006},{"s":20,"x":24.2,"y":0.0006},{"s":20,"x":24.9,"y":0.0006},{"s":20,"x":25.6,"y":0.0005},{"s":20,"x":26.3,"y":0.0005},{"s":20,"x":27.0,"y":0.0005},{"s":20,"x":27.7,"y":0.0005},{"s":20,"x":28.4,"y":0.0004},{"s":20,"x":29.1,"y":0.0004},{"s":20,"x":29.8,"y":0.0004},{"s":20,"x":30.5,"y":0.0004},{"s":20,"x":31.2,"y":0.0004},{"s":20,"x":31.9,"y":0.0003},{"s":20,"x":32.6,"y":0.0003},{"s":20,"x":33.3,"y":0.0003},{"s":20,"x":34.0,"y":0.0003},{"s":20,"x":34.7,"y":0.0003},{"s":20,"x":35.4,"y":0.0003},{"s":20,"x":36.1,"y":0.0002},{"s":20,"x":36.8,"y":0.0002},{"s":20,"x":37.9,"y":0.0002},{"s":20,"x":38.6,"y":0.0002},{"s":20,"x":39.7,"y":0.0002},{"s":20,"x":41.0,"y":0.0001},{"s":20,"x":42.3,"y":0.0001},{"s":20,"x":43.8,"y":0.0001},{"s":20,"x":48.0,"y":0.0001},{"s":20,"x":52.0,"y":0.0001},{"s":20,"x":54.1,"y":0.0001},
{"s":22,"x":0.05,"y":0.002},{"s":22,"x":0.11,"y":0.01},{"s":22,"x":0.22,"y":0.018},{"s":22,"x":0.35,"y":0.028},{"s":22,"x":0.47,"y":0.044},{"s":22,"x":0.59,"y":0.066},{"s":22,"x":0.68,"y":0.08},{"s":22,"x":0.77,"y":0.097},{"s":22,"x":0.87,"y":0.11},{"s":22,"x":0.96,"y":0.124},{"s":22,"x":1.08,"y":0.15},{"s":22,"x":1.2,"y":0.175},{"s":22,"x":1.32,"y":0.206},{"s":22,"x":1.44,"y":0.232},{"s":22,"x":1.56,"y":0.26},{"s":22,"x":1.68,"y":0.286},{"s":22,"x":1.8,"y":0.306},{"s":22,"x":1.9,"y":0.326},{"s":22,"x":2.04,"y":0.341},{"s":22,"x":2.2,"y":0.356},{"s":22,"x":2.38,"y":0.368},{"s":22,"x":2.52,"y":0.361},{"s":22,"x":2.65,"y":0.35},{"s":22,"x":2.77,"y":0.335},{"s":22,"x":2.9,"y":0.315},{"s":22,"x":3.0,"y":0.293},{"s":22,"x":3.1,"y":0.266},{"s":22,"x":3.2,"y":0.242},{"s":22,"x":3.3,"y":0.218},{"s":22,"x":3.42,"y":0.196},{"s":22,"x":3.55,"y":0.177},{"s":22,"x":3.68,"y":0.156},{"s":22,"x":3.84,"y":0.134},{"s":22,"x":4.02,"y":0.116},{"s":22,"x":4.2,"y":0.099},{"s":22,"x":4.37,"y":0.083},{"s":22,"x":4.55,"y":0.068},{"s":22,"x":4.75,"y":0.055},{"s":22,"x":4.95,"y":0.045},{"s":22,"x":5.2,"y":0.035},{"s":22,"x":5.45,"y":0.028},{"s":22,"x":5.75,"y":0.022},{"s":22,"x":6.05,"y":0.018},{"s":22,"x":6.4,"y":0.0145},{"s":22,"x":6.8,"y":0.012},{"s":22,"x":7.2,"y":0.01},{"s":22,"x":7.6,"y":0.0085},{"s":22,"x":8.0,"y":0.0073},{"s":22,"x":8.4,"y":0.0064},{"s":22,"x":8.8,"y":0.0057},{"s":22,"x":9.2,"y":0.0051},{"s":22,"x":9.6,"y":0.0046},{"s":22,"x":10.0,"y":0.0042},{"s":22,"x":10.4,"y":0.0039},{"s":22,"x":10.8,"y":0.0036},{"s":22,"x":11.2,"y":0.0034},{"s":22,"x":11.6,"y":0.0032},{"s":22,"x":12.0,"y":0.003},{"s":22,"x":12.4,"y":0.0029},{"s":22,"x":12.8,"y":0.0028},{"s":22,"x":13.2,"y":0.0027},{"s":22,"x":13.6,"y":0.0026},{"s":22,"x":14.0,"y":0.0025},{"s":22,"x":14.4,"y":0.0024},{"s":22,"x":14.8,"y":0.0024},{"s":22,"x":15.2,"y":0.0023},{"s":22,"x":15.6,"y":0.0023},{"s":22,"x":16.0,"y":0.0022},{"s":22,"x":16.4,"y":0.0022},{"s":22,"x":16.8,"y":0.0021},{"s":22,"x":17.2,"y":0.0021},{"s":22,"x":17.6,"y":0.002},{"s":22,"x":18.0,"y":0.002},{"s":22,"x":18.4,"y":0.002},{"s":22,"x":18.8,"y":0.0019},{"s":22,"x":19.2,"y":0.0019},{"s":22,"x":19.6,"y":0.0019},{"s":22,"x":20.0,"y":0.0018},{"s":22,"x":20.4,"y":0.0018},{"s":22,"x":20.8,"y":0.0018},{"s":22,"x":21.2,"y":0.0017},{"s":22,"x":21.6,"y":0.0017},{"s":22,"x":22.0,"y":0.0017},{"s":22,"x":22.4,"y":0.0017},{"s":22,"x":22.8,"y":0.0016},{"s":22,"x":23.2,"y":0.0016},{"s":22,"x":23.6,"y":0.0016},{"s":22,"x":24.0,"y":0.0016},{"s":22,"x":24.7,"y":0.0015},{"s":22,"x":25.4,"y":0.0015},{"s":22,"x":26.1,"y":0.0015},{"s":22,"x":26.8,"y":0.0015},{"s":22,"x":27.5,"y":0.0014},{"s":22,"x":28.2,"y":0.0014},{"s":22,"x":28.9,"y":0.0014},{"s":22,"x":29.6,"y":0.0014},{"s":22,"x":30.3,"y":0.0013},{"s":22,"x":31.0,"y":0.0013},{"s":22,"x":31.7,"y":0.0013},{"s":22,"x":32.4,"y":0.0013},{"s":22,"x":33.1,"y":0.0012},{"s":22,"x":33.8,"y":0.0012},{"s":22,"x":34.5,"y":0.0012},{"s":22,"x":35.2,"y":0.0012},{"s":22,"x":36.0,"y":0.0011},{"s":22,"x":36.8,"y":0.0011},{"s":22,"x":37.4,"y":0.0011},{"s":22,"x":38.5,"y":0.0011},{"s":22,"x":41.2,"y":0.001},{"s":22,"x":42.9,"y":0.001},
{"s":22,"x":10.2,"y":0.005},{"s":22,"x":10.6,"y":0.0047},{"s":22,"x":11.0,"y":0.0045},{"s":22,"x":11.4,"y":0.0043},{"s":22,"x":11.8,"y":0.0041},{"s":22,"x":12.2,"y":0.004},{"s":22,"x":12.6,"y":0.0039},{"s":22,"x":13.0,"y":0.0038},{"s":22,"x":13.4,"y":0.0037},{"s":22,"x":13.8,"y":0.0036},{"s":22,"x":14.2,"y":0.0035},{"s":22,"x":14.6,"y":0.0034},{"s":22,"x":15.0,"y":0.0034},{"s":22,"x":15.4,"y":0.0033},{"s":22,"x":15.8,"y":0.0033},{"s":22,"x":16.2,"y":0.0032},{"s":22,"x":16.6,"y":0.0032},{"s":22,"x":17.0,"y":0.0031},{"s":22,"x":17.4,"y":0.0031},{"s":22,"x":17.8,"y":0.003},{"s":22,"x":18.2,"y":0.003},{"s":22,"x":18.6,"y":0.003},{"s":22,"x":19.0,"y":0.0029},{"s":22,"x":19.4,"y":0.0029},{"s":22,"x":19.8,"y":0.0029},{"s":22,"x":20.2,"y":0.0028},{"s":22,"x":20.6,"y":0.0028},{"s":22,"x":21.0,"y":0.0028},{"s":22,"x":21.4,"y":0.0027},{"s":22,"x":21.8,"y":0.0027},{"s":22,"x":22.2,"y":0.0027},{"s":22,"x":22.6,"y":0.0026},{"s":22,"x":23.0,"y":0.0026},{"s":22,"x":23.4,"y":0.0026},{"s":22,"x":23.8,"y":0.0025}
 ]},
 "resolve": {"axis": {"x": "independent", "y": "independent"}},
 "layer": [
  {"mark": {"type": "point", "filled": false, "strokeWidth": 3, "opacity": 1},
   "encoding": {
    "x": {"field": "x", "type": "quantitative", "scale": {"domain": [-2.9, 67.5], "nice": false, "zero": false}, "axis": {"orient": "bottom", "values": [0, 20, 40, 60], "tickSize": -22, "labels": true, "labelPadding": 44, "title": "x = B₁/Vᵈ′ᶠ", "titlePadding": 2}},
    "y": {"field": "y", "type": "quantitative", "scale": {"domain": [-0.026, 0.423], "nice": false, "zero": false}, "axis": {"orient": "left", "values": [0, 0.1, 0.2, 0.3, 0.4], "tickSize": -22, "format": ".1f", "title": null}},
    "color": {"field": "s", "type": "nominal", "scale": {"domain": [18, 20, 22], "range": ["#505050", "#ef4040", "#1e6fdc"]}, "legend": {"orient": "none", "legendX": 751, "legendY": 156, "title": null, "labelExpr": "datum.value == 18 ? 'V=2¹⁸' : datum.value == 20 ? 'V=2²⁰' : 'V=2²²'", "labelFont": "Liberation Serif, DejaVu Serif", "labelFontSize": 36, "labelColor": "black", "symbolSize": 200, "symbolStrokeWidth": 2.5, "rowPadding": 14, "labelOffset": 26, "padding": 0}},
    "shape": {"field": "s", "type": "nominal", "scale": {"domain": [18, 20, 22], "range": ["square", "circle", "triangle-up"]}, "legend": {"orient": "none", "legendX": 751, "legendY": 156, "title": null, "labelExpr": "datum.value == 18 ? 'V=2¹⁸' : datum.value == 20 ? 'V=2²⁰' : 'V=2²²'", "labelFont": "Liberation Serif, DejaVu Serif", "labelFontSize": 36, "labelColor": "black", "symbolSize": 200, "symbolStrokeWidth": 2.5, "rowPadding": 14, "labelOffset": 26, "padding": 0}},
    "size": {"field": "s", "type": "nominal", "scale": {"type": "ordinal", "domain": [18, 20, 22], "range": [180, 190, 370]}, "legend": null}
   }},
  {"data": {"values": [{}]}, "mark": {"type": "point", "opacity": 0},
   "encoding": {
    "x": {"datum": 0, "type": "quantitative", "scale": {"domain": [-2.9, 67.5], "nice": false, "zero": false}, "axis": {"orient": "bottom", "values": [10, 30, 50], "tickSize": -11, "labels": false, "title": null}},
    "y": {"datum": 0, "type": "quantitative", "scale": {"domain": [-0.026, 0.423], "nice": false, "zero": false}, "axis": {"orient": "left", "values": [0.025, 0.05, 0.075, 0.125, 0.15, 0.175, 0.225, 0.25, 0.275, 0.325, 0.35, 0.375], "tickSize": -11, "labels": false, "title": null}}}},
  {"data": {"values": [{}]}, "mark": {"type": "point", "opacity": 0},
   "encoding": {
    "x": {"datum": 0, "type": "quantitative", "scale": {"domain": [-2.9, 67.5], "nice": false, "zero": false}, "axis": {"orient": "top", "values": [0, 20, 40, 60], "tickSize": -22, "labels": false, "title": null}},
    "y": {"datum": 0, "type": "quantitative", "scale": {"domain": [-0.026, 0.423], "nice": false, "zero": false}, "axis": {"orient": "right", "values": [0, 0.1, 0.2, 0.3, 0.4], "tickSize": -22, "labels": false, "title": null}}}},
  {"data": {"values": [{}]}, "mark": {"type": "text", "text": "(c) Zero", "align": "right", "baseline": "middle", "fontSize": 40, "font": "Liberation Serif", "color": "black"},
   "encoding": {
    "x": {"datum": 63.9, "type": "quantitative", "scale": {"domain": [-2.9, 67.5], "nice": false, "zero": false}, "axis": {"orient": "top", "values": [10, 30, 50], "tickSize": -11, "labels": false, "title": null}},
    "y": {"datum": 0.365, "type": "quantitative", "scale": {"domain": [-0.026, 0.423], "nice": false, "zero": false}, "axis": {"orient": "right", "values": [0.025, 0.05, 0.075, 0.125, 0.15, 0.175, 0.225, 0.25, 0.275, 0.325, 0.35, 0.375], "tickSize": -11, "labels": false, "title": null}}}}
 ]
}
]
}
